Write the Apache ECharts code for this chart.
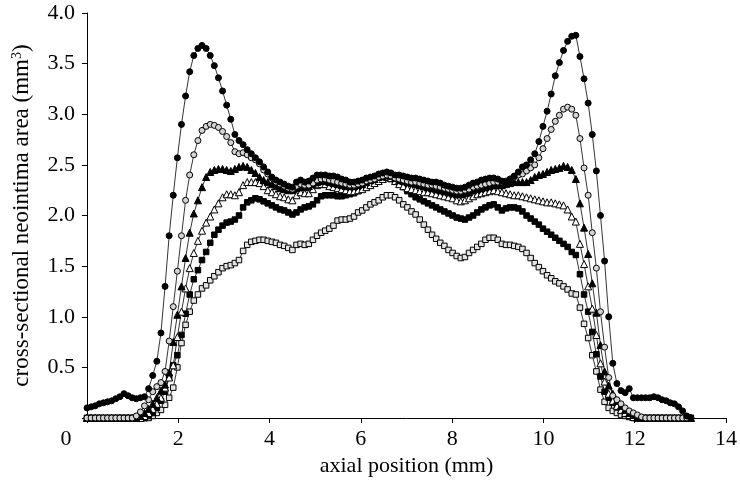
<!DOCTYPE html>
<html>
<head>
<meta charset="utf-8">
<script src="https://cdn.jsdelivr.net/npm/echarts@6/dist/echarts.min.js"></script>
<style>
html,body{margin:0;padding:0;background:#fff;}
#chart{width:740px;height:485px;}
</style>
</head>
<body>
<div id="chart"></div>
<script>
// axial positions (mm)
const positions = [0,0.09,0.18,0.27,0.36,0.45,0.54,0.63,0.72,0.81,0.9,0.99,1.08,1.17,1.26,1.35,1.44,1.53,1.62,1.71,1.8,1.89,1.98,2.07,2.16,2.25,2.34,2.43,2.52,2.61,2.7,2.79,2.88,2.97,3.06,3.15,3.24,3.33,3.42,3.51,3.6,3.69,3.78,3.87,3.96,4.05,4.14,4.23,4.32,4.41,4.5,4.59,4.68,4.77,4.86,4.95,5.04,5.13,5.22,5.31,5.4,5.49,5.58,5.67,5.76,5.85,5.94,6.03,6.12,6.21,6.3,6.39,6.48,6.57,6.66,6.75,6.84,6.93,7.02,7.11,7.2,7.29,7.38,7.47,7.56,7.65,7.74,7.83,7.92,8.01,8.1,8.19,8.28,8.37,8.46,8.55,8.64,8.73,8.82,8.91,9,9.09,9.18,9.27,9.36,9.45,9.54,9.63,9.72,9.81,9.9,9.99,10.08,10.17,10.26,10.35,10.44,10.53,10.62,10.71,10.8,10.89,10.98,11.07,11.16,11.25,11.34,11.43,11.52,11.61,11.7,11.79,11.88,11.97,12.06,12.15,12.24,12.33,12.42,12.51,12.6,12.69,12.78,12.87,12.96,13.05,13.14,13.23];

// filled circles
const seriesA = [0.10,0.11,0.12,0.14,0.15,0.16,0.17,0.19,0.21,0.24,
0.22,0.20,0.19,0.20,0.21,0.29,0.42,0.56,0.84,1.30,
1.80,2.20,2.57,2.90,3.18,3.42,3.58,3.65,3.68,3.65,
3.58,3.48,3.36,3.23,3.09,2.95,2.80,2.74,2.70,2.65,
2.61,2.57,2.53,2.48,2.43,2.38,2.35,2.33,2.31,2.29,
2.28,2.33,2.35,2.33,2.34,2.37,2.40,2.40,2.40,2.39,
2.39,2.38,2.36,2.35,2.33,2.33,2.34,2.35,2.37,2.38,
2.39,2.41,2.42,2.43,2.42,2.40,2.40,2.39,2.38,2.37,
2.37,2.36,2.35,2.34,2.33,2.33,2.32,2.30,2.29,2.28,
2.27,2.27,2.28,2.30,2.32,2.33,2.35,2.36,2.37,2.37,
2.36,2.34,2.33,2.36,2.39,2.43,2.48,2.50,2.55,2.61,
2.73,2.88,3.03,3.20,3.38,3.51,3.63,3.72,3.77,3.78,
3.57,3.35,3.11,2.80,2.44,2.00,1.55,1.00,0.54,0.34,
0.27,0.25,0.29,0.20,0.20,0.20,0.20,0.20,0.21,0.20,
0.18,0.17,0.15,0.14,0.11,0.07,0.02,0];

// open circles (grey centre)
const seriesB = [0,0,0,0,0,0,0,0,0,0,
0,0,0.02,0.06,0.12,0.18,0.26,0.31,0.35,0.46,
0.76,1.10,1.45,1.80,2.15,2.40,2.60,2.74,2.84,2.88,
2.90,2.89,2.87,2.83,2.78,2.72,2.63,2.61,2.62,2.60,
2.57,2.55,2.51,2.45,2.41,2.37,2.33,2.31,2.29,2.27,
2.26,2.29,2.31,2.30,2.30,2.32,2.35,2.36,2.36,2.35,
2.34,2.33,2.32,2.31,2.30,2.30,2.31,2.32,2.34,2.35,
2.36,2.38,2.39,2.40,2.39,2.37,2.36,2.35,2.34,2.33,
2.33,2.32,2.31,2.30,2.30,2.29,2.28,2.27,2.26,2.25,
2.24,2.24,2.25,2.26,2.28,2.29,2.30,2.31,2.32,2.33,
2.33,2.33,2.34,2.36,2.38,2.40,2.41,2.44,2.47,2.50,
2.57,2.66,2.76,2.85,2.93,2.99,3.05,3.07,3.05,2.99,
2.76,2.47,2.20,1.83,1.48,1.05,0.70,0.40,0.22,0.18,
0.14,0.10,0.07,0.05,0.03,0.01,0,0,0,0,
0,0,0,0,0,0,0,0];

// filled triangles
const seriesC = [0,0,0,0,0,0,0,0,0,0,
0,0,0,0.02,0.05,0.09,0.14,0.20,0.27,0.33,
0.45,0.75,1.02,1.30,1.58,1.83,2.02,2.15,2.28,2.38,
2.43,2.45,2.46,2.46,2.45,2.44,2.46,2.48,2.49,2.48,
2.45,2.42,2.38,2.35,2.33,2.31,2.29,2.27,2.26,2.25,
2.25,2.27,2.28,2.28,2.29,2.31,2.33,2.34,2.34,2.33,
2.32,2.31,2.30,2.29,2.29,2.29,2.30,2.31,2.33,2.35,
2.36,2.38,2.39,2.40,2.39,2.37,2.35,2.34,2.33,2.32,
2.31,2.30,2.29,2.28,2.27,2.26,2.25,2.24,2.23,2.22,
2.21,2.21,2.22,2.23,2.25,2.26,2.27,2.28,2.29,2.30,
2.30,2.30,2.31,2.32,2.33,2.33,2.33,2.33,2.35,2.38,
2.40,2.41,2.43,2.45,2.46,2.47,2.49,2.48,2.45,2.36,
2.12,1.88,1.62,1.33,1.04,0.72,0.46,0.32,0.24,0.17,
0.12,0.08,0.05,0.03,0.01,0,0,0,0,0,
0,0,0,0,0,0,0,0];

// open triangles
const seriesD = [0,0,0,0,0,0,0,0,0,0,
0,0,0,0,0.02,0.05,0.09,0.14,0.20,0.30,
0.40,0.52,0.80,1.05,1.28,1.48,1.63,1.75,1.85,1.93,
1.99,2.06,2.12,2.18,2.21,2.21,2.20,2.23,2.30,2.33,
2.33,2.33,2.32,2.29,2.25,2.23,2.21,2.19,2.18,2.16,
2.15,2.20,2.23,2.22,2.22,2.26,2.30,2.31,2.31,2.29,
2.28,2.27,2.26,2.25,2.24,2.24,2.25,2.26,2.28,2.30,
2.32,2.34,2.36,2.38,2.37,2.34,2.31,2.29,2.27,2.26,
2.25,2.24,2.23,2.23,2.22,2.21,2.20,2.19,2.18,2.17,
2.15,2.14,2.15,2.17,2.19,2.21,2.22,2.23,2.24,2.25,
2.24,2.23,2.22,2.21,2.20,2.20,2.19,2.18,2.17,2.16,
2.15,2.14,2.13,2.13,2.12,2.11,2.10,2.06,1.99,1.94,
1.72,1.52,1.30,1.08,0.82,0.54,0.36,0.24,0.17,0.12,
0.08,0.05,0.03,0.01,0,0,0,0,0,0,
0,0,0,0,0,0,0,0];

// filled squares
const seriesE = [0,0,0,0,0,0,0,0,0,0,
0,0,0,0,0,0.02,0.05,0.10,0.17,0.26,
0.40,0.52,0.62,0.82,1.03,1.22,1.37,1.46,1.56,1.64,
1.73,1.81,1.86,1.90,1.93,1.94,1.96,2.00,2.08,2.13,
2.15,2.17,2.16,2.14,2.12,2.10,2.08,2.06,2.05,2.03,
2.01,2.03,2.06,2.08,2.09,2.11,2.15,2.19,2.20,2.20,
2.20,2.19,2.19,2.20,2.21,2.22,2.24,2.26,2.28,2.30,
2.32,2.34,2.36,2.37,2.36,2.34,2.32,2.28,2.24,2.21,
2.18,2.16,2.14,2.12,2.10,2.08,2.06,2.04,2.02,2.00,
1.98,1.97,1.96,1.98,2.00,2.03,2.06,2.08,2.10,2.11,
2.08,2.05,2.07,2.08,2.08,2.07,2.04,2.00,1.97,1.94,
1.91,1.87,1.84,1.81,1.78,1.75,1.72,1.69,1.64,1.61,
1.42,1.22,1.05,0.85,0.63,0.41,0.26,0.20,0.15,0.11,
0.07,0.04,0.02,0.01,0,0,0,0,0,0,
0,0,0,0,0,0,0,0];

// open squares
const seriesF = [0,0,0,0,0,0,0,0,0,0,
0,0,0,0,0,0,0.02,0.05,0.08,0.13,
0.20,0.30,0.50,0.74,0.92,1.05,1.16,1.22,1.28,1.31,
1.36,1.40,1.44,1.48,1.50,1.51,1.53,1.56,1.65,1.71,
1.74,1.75,1.76,1.76,1.75,1.74,1.73,1.71,1.70,1.68,
1.66,1.71,1.72,1.71,1.72,1.76,1.80,1.83,1.85,1.87,
1.90,1.95,1.96,1.96,1.97,1.99,2.03,2.05,2.08,2.11,
2.13,2.15,2.18,2.20,2.20,2.18,2.15,2.11,2.08,2.04,
2.01,1.96,1.91,1.86,1.81,1.77,1.73,1.70,1.66,1.63,
1.60,1.58,1.59,1.63,1.66,1.69,1.72,1.76,1.78,1.78,
1.76,1.72,1.71,1.71,1.70,1.69,1.67,1.63,1.58,1.53,
1.49,1.45,1.41,1.38,1.35,1.33,1.30,1.27,1.23,1.22,
1.09,0.93,0.79,0.62,0.46,0.28,0.16,0.10,0.07,0.05,
0.03,0.02,0.01,0,0,0,0,0,0,0,
0,0,0,0,0,0,0,0];

const xTicks = [0, 14, 2];       // min, max, interval
const yTicks = [0, 4, 0.5];
const xTitle = 'axial position (mm)';
const yTitle = 'cross-sectional neointima area (mm{sup|3})';

const FONT = 'Liberation Serif';

function pairs(vals){ return positions.map((x,i)=>[x, vals[i]]); }

function mk(name, vals, symbol, size, fill){
  return {
    name: name, type: 'line', data: pairs(vals),
    symbol: symbol, symbolSize: size, showAllSymbol: true,
    lineStyle: {color: '#000', width: 0.8},
    itemStyle: {color: fill, borderColor: '#000', borderWidth: 1},
    emphasis: {disabled: true},
    animation: false
  };
}

const chart = echarts.init(document.getElementById('chart'), null, {renderer: 'canvas'});
chart.setOption({
  backgroundColor: '#fff',
  animation: false,
  grid: {left: 87, right: 7, top: 13, bottom: 67, containLabel: false},
  xAxis: {
    type: 'value', min: xTicks[0], max: xTicks[1], interval: xTicks[2],
    name: xTitle, nameLocation: 'middle', nameGap: 37,
    nameTextStyle: {fontFamily: FONT, fontSize: 22, color: '#000'},
    axisLine: {show: true, lineStyle: {color: '#000', width: 1}},
    axisTick: {show: true, inside: false, length: 5, lineStyle: {color: '#000'}},
    splitLine: {show: false},
    axisLabel: {
      fontFamily: FONT, fontSize: 22, color: '#000', margin: 10,
      formatter: v => v === 0 ? '{z|0}' : String(v),
      rich: {z: {fontFamily: FONT, fontSize: 22, color: '#000', padding: [0, 42, 0, 0]}}
    }
  },
  yAxis: {
    type: 'value', min: yTicks[0], max: yTicks[1], interval: yTicks[2],
    name: yTitle, nameLocation: 'middle', nameGap: 53, nameRotate: 90,
    nameTextStyle: {
      fontFamily: FONT, fontSize: 23, color: '#000',
      rich: {sup: {fontFamily: FONT, fontSize: 14, color: '#000', verticalAlign: 'top', padding: [0,0,10,0]}}
    },
    axisLine: {show: true, lineStyle: {color: '#000', width: 1}},
    axisTick: {show: true, inside: false, length: 5, lineStyle: {color: '#000'}},
    splitLine: {show: false},
    axisLabel: {
      fontFamily: FONT, fontSize: 22, color: '#000', margin: 12,
      formatter: v => v === 0 ? '' : v.toFixed(1)
    }
  },
  series: [
    mk('F', seriesF, 'rect', 5.5, '#e4e4e4'),
    mk('E', seriesE, 'rect', 5.5, '#000'),
    mk('D', seriesD, 'triangle', 7, '#fff'),
    mk('C', seriesC, 'triangle', 7, '#000'),
    mk('B', seriesB, 'circle', 6, '#d4d4d4'),
    mk('A', seriesA, 'circle', 6, '#000')
  ]
});
</script>
</body>
</html>
